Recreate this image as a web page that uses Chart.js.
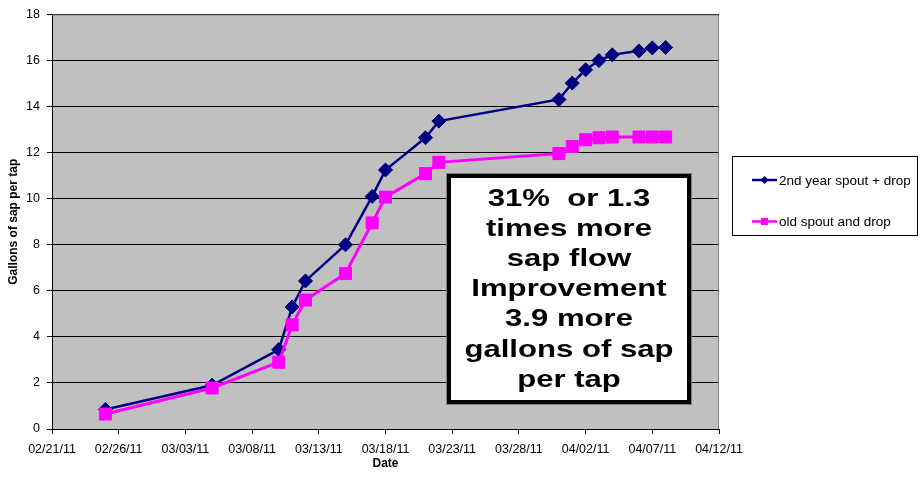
<!DOCTYPE html>
<html>
<head>
<meta charset="utf-8">
<script src="https://cdn.jsdelivr.net/npm/chart.js@4.4.1/dist/chart.umd.min.js"></script>
<style>
  html, body { margin: 0; padding: 0; background: #fff; }
  #wrap { width: 924px; height: 478px; }
</style>
</head>
<body>
<div id="wrap"><canvas id="sapChart" width="924" height="478"></canvas></div>
<script>
// readings (2011), cumulative gallons per tap
const dates = ['2011-02-25', '2011-03-05', '2011-03-10', '2011-03-11', '2011-03-12', '2011-03-15',
    '2011-03-17', '2011-03-18', '2011-03-21', '2011-03-22', '2011-03-31', '2011-04-01',
    '2011-04-02', '2011-04-03', '2011-04-04', '2011-04-06', '2011-04-07', '2011-04-08']
const newSpout = [0.85, 1.9, 3.45, 5.3, 6.43, 8.0, 10.1, 11.25, 12.65, 13.37, 14.31, 15.02,
    15.6, 16.0, 16.25, 16.42, 16.55, 16.57]
const oldSpout = [0.65, 1.78, 2.9, 4.52, 5.6, 6.75, 8.95, 10.07, 11.09, 11.58, 11.96, 12.27,
    12.56, 12.65, 12.68, 12.68, 12.68, 12.68]
const seriesNames = ['2nd year spout + drop', 'old spout and drop']
const tickLabels = ['02/21/11', '02/26/11', '03/03/11', '03/08/11', '03/13/11', '03/18/11',
    '03/23/11', '03/28/11', '04/02/11', '04/07/11', '04/12/11']
const noteLines = ['31%  or 1.3', 'times more', 'sap flow', 'Improvement', '3.9 more', 'gallons of sap', 'per tap']

const FONT = 'Arial, "Liberation Sans", sans-serif'
const startDay = Date.UTC(2011, 1, 21)

// days since 02/21/11
function dayOf(s) {
    const p = s.split('-')
    return (Date.UTC(+p[0], +p[1] - 1, +p[2]) - startDay) / 86400000
}

function toPoints(values) {
    return values.map((v, i) => ({ x: dayOf(dates[i]), y: v }))
}

// gray plot background, gray top/right frame
const plotFrame = {
    id: 'plotFrame',
    beforeDraw(chart) {
        const { ctx, chartArea: a } = chart
        ctx.save()
        ctx.fillStyle = '#fff'
        ctx.fillRect(0, 0, chart.width, chart.height)
        ctx.fillStyle = '#c0c0c0'
        ctx.fillRect(a.left, a.top, a.right - a.left, a.bottom - a.top)
        ctx.restore()
    },
    beforeDatasetsDraw(chart) {
        const { ctx, chartArea: a } = chart
        ctx.save()
        ctx.strokeStyle = '#808080'
        ctx.lineWidth = 1
        ctx.beginPath()
        ctx.moveTo(a.left, a.top + 0.5)
        ctx.lineTo(a.right - 0.5, a.top + 0.5)
        ctx.lineTo(a.right - 0.5, a.bottom)
        ctx.stroke()
        ctx.restore()
    }
}

// the white note box over the plot
const noteBox = {
    id: 'noteBox',
    afterDatasetsDraw(chart) {
        const ctx = chart.ctx
        const x0 = 448, y0 = 175, x1 = 690, y1 = 403
        ctx.save()
        ctx.fillStyle = '#fff'
        ctx.fillRect(x0, y0, x1 - x0, y1 - y0)
        ctx.strokeStyle = '#808080'
        ctx.lineWidth = 1
        ctx.strokeRect(x0 - 1.5, y0 - 1.5, x1 - x0 + 3, y1 - y0 + 3)
        ctx.strokeStyle = '#000'
        ctx.lineWidth = 4
        ctx.strokeRect(x0 + 1, y0 + 1, x1 - x0 - 2, y1 - y0 - 2)
        ctx.fillStyle = '#000'
        ctx.font = 'bold 24.5px ' + FONT
        ctx.textAlign = 'center'
        ctx.textBaseline = 'alphabetic'
        noteLines.forEach((line, i) => {
            ctx.save()
            ctx.translate(569, 206 + i * 30.1)
            ctx.scale(1.27, 1)
            ctx.fillText(line, 0, 0)
            ctx.restore()
        })
        ctx.restore()
    }
}

// legend box on the right
const sideLegend = {
    id: 'sideLegend',
    afterDraw(chart) {
        const ctx = chart.ctx
        ctx.save()
        ctx.fillStyle = '#fff'
        ctx.fillRect(732, 156, 186, 80)
        ctx.strokeStyle = '#000'
        ctx.lineWidth = 1
        ctx.strokeRect(732.5, 156.5, 185, 79)
        const rows = [180, 221.5]
        seriesNames.forEach((name, i) => {
            const ds = chart.data.datasets.find(d => d.label === name)
            const y = rows[i]
            ctx.strokeStyle = ds.borderColor
            ctx.lineWidth = 2.5
            ctx.beginPath()
            ctx.moveTo(752, y)
            ctx.lineTo(777, y)
            ctx.stroke()
            ctx.fillStyle = ds.borderColor
            ctx.beginPath()
            if (ds.pointStyle === 'rectRot') {
                ctx.moveTo(764.5, y - 4); ctx.lineTo(768.5, y); ctx.lineTo(764.5, y + 4); ctx.lineTo(760.5, y)
            } else {
                ctx.rect(761, y - 3.5, 7, 7)
            }
            ctx.closePath()
            ctx.fill()
            ctx.fillStyle = '#000'
            ctx.font = '13.5px ' + FONT
            ctx.textAlign = 'left'
            ctx.textBaseline = 'middle'
            ctx.fillText(name, 779, y + 1)
        })
        ctx.restore()
    }
}

const ctx = document.getElementById('sapChart').getContext('2d')
new Chart(ctx, {
    type: 'line',
    data: {
        datasets: [{
            label: seriesNames[0],
            data: toPoints(newSpout),
            borderColor: '#000080',
            backgroundColor: '#000080',
            borderWidth: 2.5,
            pointStyle: 'rectRot',
            pointRadius: 7,
            pointBorderWidth: 1,
            tension: 0,
            order: 1
        }, {
            label: seriesNames[1],
            data: toPoints(oldSpout),
            borderColor: '#ff00ff',
            backgroundColor: '#ff00ff',
            borderWidth: 3,
            pointStyle: 'rect',
            pointRadius: 8.5,
            pointBorderWidth: 1,
            tension: 0,
            order: 0
        }]
    },
    options: {
        responsive: false,
        animation: false,
        devicePixelRatio: 1,
        layout: { padding: { top: 14, right: 205, bottom: 0, left: 0 } },
        plugins: {
            legend: { display: false },
            tooltip: { enabled: false }
        },
        scales: {
            x: {
                type: 'linear',
                min: 0,
                max: 50,
                afterFit: scale => { scale.height = 49 },
                afterBuildTicks: scale => {
                    scale.ticks = tickLabels.map((t, i) => ({ value: i * 5 }))
                },
                ticks: {
                    autoSkip: false,
                    maxRotation: 0,
                    padding: 8,
                    color: '#000',
                    font: { family: FONT, size: 12.5 },
                    callback: (value, index) => tickLabels[index]
                },
                grid: { drawOnChartArea: false, tickLength: 5, tickColor: '#000' },
                border: { color: '#000', width: 1 },
                title: {
                    display: true,
                    text: 'Date',
                    color: '#000',
                    font: { family: FONT, size: 12, weight: 'bold' },
                    padding: { top: 0, bottom: 7 }
                }
            },
            y: {
                min: 0,
                max: 18,
                afterFit: scale => { scale.width = 52 },
                ticks: {
                    stepSize: 2,
                    padding: 7,
                    color: '#000',
                    font: { family: FONT, size: 12.5 }
                },
                grid: { color: '#000', lineWidth: 1, tickLength: 5, tickColor: '#000' },
                border: { color: '#000', width: 1 },
                title: {
                    display: true,
                    text: 'Gallons of sap per tap',
                    color: '#000',
                    font: { family: FONT, size: 12, weight: 'bold' },
                    padding: { top: 6, bottom: 0 }
                }
            }
        }
    },
    plugins: [plotFrame, noteBox, sideLegend]
});
</script>
</body>
</html>
